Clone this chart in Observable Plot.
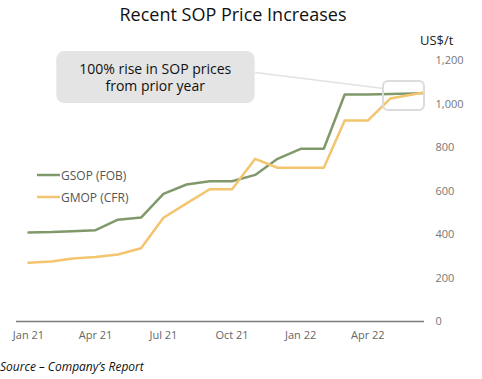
<!DOCTYPE html>
<html>
<head>
<meta charset="utf-8">
<script src="https://cdn.jsdelivr.net/npm/d3@7"></script>
<script src="https://cdn.jsdelivr.net/npm/@observablehq/plot@0.6"></script>
<style>
  html, body { margin: 0; padding: 0; background: #fff; }
  #wrap { position: relative; width: 482px; height: 379px; font-family: "Open Sans", sans-serif; overflow: hidden; }
  #wrap > svg { position: absolute; left: 0; top: 0; }
  .title { position: absolute; left: 0; width: 466px; top: 2px; text-align: center; font-size: 18px; color: #111; }
  .unit { position: absolute; left: 420px; top: 31px; font-size: 13px; color: #222; }
  .source { position: absolute; left: 0; top: 358px; font-size: 12px; font-style: italic; color: #111; }
  .legend { position: absolute; left: 37px; font-size: 12px; color: #555; display: flex; align-items: center; }
  .legend svg { margin-right: 1px; display: block; }
</style>
</head>
<body>
<div id="wrap">
  <div class="title">Recent SOP Price Increases</div>
  <div class="unit">US$/t</div>
  <div class="source">Source – Company’s Report</div>
</div>
<script>
// ---- data ----
const dates = ["2021-01-01","2021-02-01","2021-03-01","2021-04-01","2021-05-01","2021-06-01",
  "2021-07-01","2021-08-01","2021-09-01","2021-10-01","2021-11-01","2021-12-01",
  "2022-01-01","2022-02-01","2022-03-01","2022-04-01","2022-05-01","2022-06-15"];
const gsop = [409, 411, 415, 420, 468, 478, 587, 630, 645, 645, 674, 748, 794, 794, 1044, 1044, 1046, 1050];
const gmop = [270, 276, 290, 297, 308, 337, 477, 543, 608, 608, 748, 707, 707, 707, 924, 924, 1025, 1053];
const seriesNames = ["GSOP (FOB)", "GMOP (CFR)"];
const seriesColors = ["#80996a", "#f2c56e"];
const xTicks = ["2021-01-01","2021-04-01","2021-07-01","2021-10-01","2022-01-01","2022-04-01"];
const yTicks = [0, 200, 400, 600, 800, 1000, 1200];
const xDomain = ["2020-12-16", "2022-06-16"];
const calloutText = "100% rise in SOP prices\nfrom prior year";
const calloutBox = {x1: "2021-02-08", x2: "2021-11-01", y1: 1002, y2: 1241};
const calloutTextPos = {x: "2021-06-20", y: 1122};
const highlightBox = {x1: "2022-04-22", x2: "2022-06-16", y1: 970, y2: 1103};
const connector = {x1: "2021-11-01", y1: 1145, x2: "2022-04-22", y2: 1071};

// ---- build ----
const P = s => new Date(s + "T00:00:00Z");
const rows = [];
dates.forEach((d, i) => {
  rows.push({date: P(d), value: gsop[i], series: seriesNames[0]});
  rows.push({date: P(d), value: gmop[i], series: seriesNames[1]});
});
const fmt = d3.utcFormat("%b %y");

const chart = Plot.plot({
  width: 482,
  height: 379,
  marginLeft: 16,
  marginRight: 58,
  marginTop: 60,
  marginBottom: 58,
  style: {fontFamily: "Open Sans, sans-serif", background: "transparent", overflow: "visible"},
  x: {type: "utc", domain: xDomain.map(P)},
  y: {domain: [0, 1200]},
  color: {domain: seriesNames, range: seriesColors},
  marks: [
    Plot.axisX({ticks: xTicks.map(P), tickFormat: fmt, tickSize: 0, tickPadding: 10, fontSize: 11, fill: "#666", label: null}),
    Plot.axisY({anchor: "right", ticks: yTicks, tickFormat: d3.format(","), tickSize: 0, tickPadding: 11, fontSize: 11, fill: "#777", label: null}),
    Plot.ruleY([0], {stroke: "#7a7a7a", strokeWidth: 1.5}),
    Plot.link([connector], {x1: d => P(d.x1), y1: "y1", x2: d => P(d.x2), y2: "y2", stroke: "#e2e2e2", strokeWidth: 1.5}),
    Plot.rect([calloutBox], {x1: d => P(d.x1), x2: d => P(d.x2), y1: "y1", y2: "y2", fill: "#e4e4e4", rx: 8}),
    Plot.text([calloutTextPos], {x: d => P(d.x), y: "y", text: () => calloutText, fontSize: 14, fill: "#111", lineHeight: 1.2}),
    Plot.line(rows, {x: "date", y: "value", stroke: "series", z: "series", strokeWidth: 2.5}),
    Plot.rect([highlightBox], {x1: d => P(d.x1), x2: d => P(d.x2), y1: "y1", y2: "y2", fill: "none", stroke: "#dcdcdc", strokeWidth: 2, rx: 5})
  ]
});
const wrap = document.getElementById("wrap");
wrap.insertBefore(chart, wrap.firstChild);

// legend
const legendY = [166, 188];
seriesNames.forEach((name, i) => {
  const div = document.createElement("div");
  div.className = "legend";
  div.style.top = legendY[i] + "px";
  const sw = d3.create("svg").attr("width", 23).attr("height", 18);
  sw.append("line").attr("x1", 0).attr("x2", 23).attr("y1", 9).attr("y2", 9)
    .attr("stroke", seriesColors[i]).attr("stroke-width", 2.5);
  div.appendChild(sw.node());
  const span = document.createElement("span");
  span.textContent = name;
  div.appendChild(span);
  wrap.appendChild(div);
});
</script>
</body>
</html>
